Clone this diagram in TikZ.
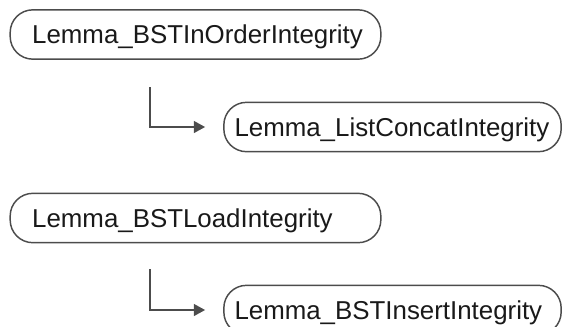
\documentclass[tikz,border=0pt]{standalone}
\usepackage{fontspec}
\setmainfont{Liberation Sans}
\usetikzlibrary{arrows.meta}
\begin{document}
\begin{tikzpicture}[x=0.75pt,y=-0.75pt,
  lemma/.style={draw=black!70, line width=1.1pt, rounded corners=17pt,
    minimum height=37pt, align=left, inner ysep=0pt,
    text height=13.9pt, text depth=0pt,
    font=\fontsize{19.4}{22}\selectfont, text=black!90},
  widebox/.style={lemma, minimum width=278pt, text width=245pt, inner xsep=16.5pt},
  narrowbox/.style={lemma, minimum width=253pt, text width=237pt, inner xsep=8pt},
  link/.style={draw=black!70, line width=1.1pt,
    -{Triangle[length=8.5pt,width=9pt]}, shorten >=13.5pt}]
  \useasboundingbox (0,0) rectangle (563,326);
  \node[widebox]   (inorder) at (195.5,34.5) {Lemma\_BSTInOrderIntegrity};
  \node[narrowbox] (concat)  at (392.5,127)  {Lemma\_ListConcatIntegrity};
  \node[widebox]   (load)    at (195.5,218)  {Lemma\_BSTLoadIntegrity};
  \node[narrowbox] (insert)  at (392.5,310)  {Lemma\_BSTInsertIntegrity};
  \coordinate (c1) at (150,87);
  \coordinate (c2) at (150,269);
  \draw[link] (c1) |- (concat.west);
  \draw[link] (c2) |- (insert.west);
\end{tikzpicture}
\end{document}
